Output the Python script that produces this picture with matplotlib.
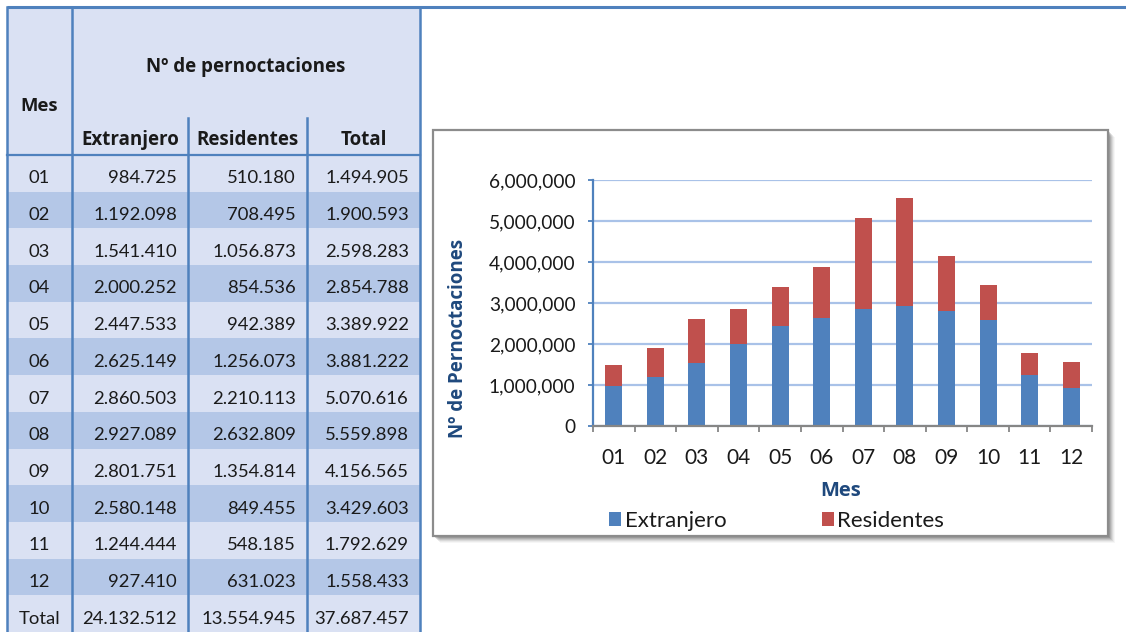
import matplotlib
matplotlib.use("Agg")
import matplotlib.pyplot as plt
from matplotlib.patches import Rectangle
import numpy as np

plt.rcParams['font.family'] = ['Lato', 'DejaVu Sans']
BOLD = ['Open Sans', 'DejaVu Sans']

# data
meses = ["01", "02", "03", "04", "05", "06", "07", "08", "09", "10", "11", "12"]
extranjero = [984725, 1192098, 1541410, 2000252, 2447533, 2625149,
              2860503, 2927089, 2801751, 2580148, 1244444, 927410]
residentes = [510180, 708495, 1056873, 854536, 942389, 1256073,
              2210113, 2632809, 1354814, 849455, 548185, 631023]
col_headers = ["Extranjero", "Residentes", "Total"]


def fmt_es(v):
    return f"{v:,}".replace(",", ".")


W, H = 1126, 632
fig = plt.figure(figsize=(W / 100, H / 100), dpi=100)

# background axes in pixel coordinates for the table and chart frame
bg = fig.add_axes([0, 0, 1, 1])
bg.set_xlim(0, W)
bg.set_ylim(H, 0)
bg.axis("off")

light = "#dae1f3"
dark = "#b4c7e7"
line_c = "#4f81bd"
txt_c = "#1a1a1a"

cols = [7, 72, 188, 307, 420]
head_top, head_bot = 8, 155
row_h = (H - head_bot) / 13

bg.add_patch(Rectangle((cols[0], head_top), cols[-1] - cols[0], head_bot - head_top,
                       facecolor=light, edgecolor="none"))

totals = [e + r for e, r in zip(extranjero, residentes)]
rows = [[m, fmt_es(e), fmt_es(r), fmt_es(t)]
        for m, e, r, t in zip(meses, extranjero, residentes, totals)]
rows.append(["Total", fmt_es(sum(extranjero)), fmt_es(sum(residentes)), fmt_es(sum(totals))])

for i, row in enumerate(rows):
    y0 = head_bot + i * row_h
    bg.add_patch(Rectangle((cols[0], y0), cols[-1] - cols[0], row_h,
                           facecolor=light if i % 2 == 0 else dark, edgecolor="none"))
    yc = y0 + row_h / 2 + 5
    bg.text((cols[0] + cols[1]) / 2, yc, row[0], ha="center", va="center",
            fontsize=13.3, color=txt_c)
    for j in range(1, 4):
        bg.text(cols[j + 1] - 11, yc, row[j], ha="right", va="center",
                fontsize=13.3, color=txt_c)

# header texts
bg.text((cols[0] + cols[1]) / 2, 106, "Mes", ha="center", va="center",
        fontsize=13.3, fontweight="bold", family=BOLD, color=txt_c)
bg.text((cols[1] + cols[-1]) / 2, 67, "Nº de pernoctaciones", ha="center", va="center",
        fontsize=13.5, fontweight="bold", family=BOLD, color=txt_c)
for j, h in enumerate(col_headers):
    bg.text((cols[j + 1] + cols[j + 2]) / 2, 140, h, ha="center", va="center",
            fontsize=13.5, fontweight="bold", family=BOLD, color=txt_c)

# table lines
bg.plot([cols[0], W], [7, 7], color=line_c, lw=2.2, solid_capstyle="butt")
bg.plot([cols[0], cols[-1]], [head_bot, head_bot], color=line_c, lw=1.6)
for x in [cols[0], cols[1], cols[-1]]:
    bg.plot([x, x], [7, H], color=line_c, lw=1.8)
for x in [cols[2], cols[3]]:
    bg.plot([x, x], [118, H], color=line_c, lw=1.8)

# chart frame with shadow
bx0, by0, bx1, by1 = 433, 130, 1108, 536
for k, a in zip([7, 6, 5, 4, 3, 2], [0.05, 0.08, 0.12, 0.16, 0.2, 0.25]):
    bg.add_patch(Rectangle((bx0 + k, by0 + k), bx1 - bx0, by1 - by0,
                           facecolor="#606060", edgecolor="none", alpha=a))
bg.add_patch(Rectangle((bx0, by0), bx1 - bx0, by1 - by0,
                       facecolor="white", edgecolor="#8c8c8c", lw=1.6))

# chart axes
left, right, top, bottom = 593, 1092, 180, 426
ax = fig.add_axes([left / W, 1 - bottom / H, (right - left) / W, (bottom - top) / H])
ax.set_facecolor("none")
x = np.arange(len(meses))
ax.bar(x, extranjero, width=0.41, color="#4f81bd", label="Extranjero", zorder=3)
ax.bar(x, residentes, width=0.41, bottom=extranjero, color="#c0504d",
       label="Residentes", zorder=3)
ax.set_xlim(-0.5, len(meses) - 0.5)
ax.set_ylim(0, 6000000)
ax.set_yticks(np.arange(0, 6000001, 1000000))
ax.set_yticklabels([f"{v:,}" for v in range(0, 6000001, 1000000)])
ax.grid(axis="y", color="#a9c2e8", lw=1.6, zorder=0)
ax.set_xticks(x)
ax.set_xticklabels(meses)
ax.set_xticks(np.arange(-0.5, len(meses)), minor=True)
ax.tick_params(axis="x", which="major", length=0, pad=16, labelsize=15, labelcolor=txt_c)
ax.tick_params(axis="x", which="minor", length=4.5, width=1.3, color="#868686")
ax.tick_params(axis="y", length=3.6, width=1.3, color="#4f81bd", pad=9,
               labelsize=13.8, labelcolor=txt_c)
for s in ["top", "right"]:
    ax.spines[s].set_visible(False)
ax.spines["left"].set_color("#4f81bd")
ax.spines["left"].set_linewidth(1.6)
ax.spines["bottom"].set_color("#868686")
ax.spines["bottom"].set_linewidth(1.6)
ax.spines["left"].set_zorder(4)
ax.spines["bottom"].set_zorder(4)

fig.text(458 / W, 1 - 338 / H, "Nº de Pernoctaciones", rotation=90, ha="center",
         va="center", fontsize=13.5, fontweight="bold", family=BOLD, color="#1f497d")
fig.text(841 / W, 1 - 491 / H, "Mes", ha="center", va="center", fontsize=14.5,
         fontweight="bold", family=BOLD, color="#1f497d")

fig.legend(loc="center left", bbox_to_anchor=(589 / W, 1 - 521 / H), ncol=2,
           frameon=False, fontsize=16, handlelength=0.55, handleheight=0.55,
           handletextpad=0.15, columnspacing=4.3, labelcolor=txt_c)

fig.savefig("out.png", dpi=100)
